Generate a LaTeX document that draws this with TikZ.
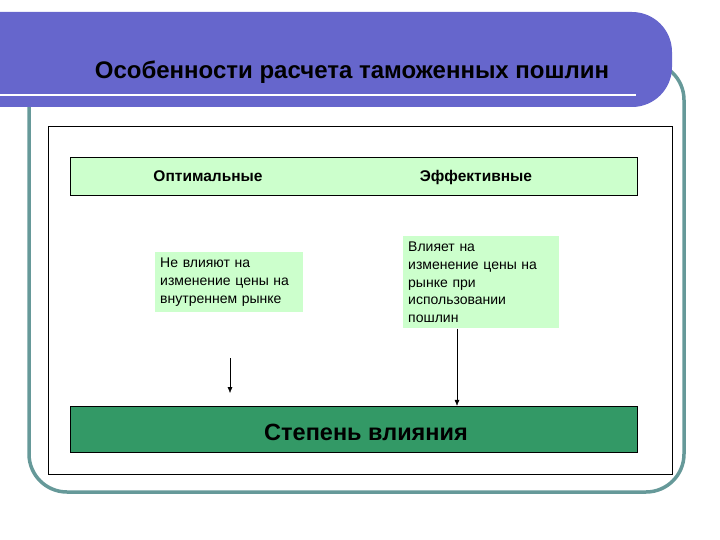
\documentclass[tikz,border=0pt]{standalone}
\usepackage{fontspec}
\setmainfont{Liberation Sans}
\usepackage{xcolor}
\usepackage{tikz}
\usetikzlibrary{arrows.meta, positioning, calc}

\definecolor{bandblue}{RGB}{102,102,204}
\definecolor{frameteal}{RGB}{102,153,153}
\definecolor{palegreen}{RGB}{204,255,204}
\definecolor{deepgreen}{RGB}{51,153,102}

\begin{document}
\begin{tikzpicture}[x=1pt, y=-1pt,
    kindbox/.style={draw=black, fill=palegreen, minimum width=567pt, minimum height=38pt, inner sep=0pt},
    kindlabel/.style={font=\fontsize{15.5}{18}\selectfont\bfseries, anchor=base},
    notebox/.style={fill=palegreen, font=\fontsize{14}{17.6}\selectfont, align=left, inner xsep=5pt, inner ysep=6pt, anchor=north west},
    arrowline/.style={-{Latex[length=6pt, width=5pt]}, thin}]
    \useasboundingbox (0,0) rectangle (720,540);

    % Outer slide frame
    \draw[frameteal, line width=3.5pt, rounded corners=38pt] (29,62) rectangle (684,492);

    % Title band
    \fill[bandblue, rounded corners=40pt] (-60,12) rectangle (672,107);
    \draw[white, line width=2.5pt] (0,95) -- (636,95);
    \node[font=\fontsize{24}{28}\selectfont\bfseries] (title) at (352,72) {Особенности расчета таможенных пошлин};

    % Content panel
    \draw[fill=white, thin] (48,126) rectangle (672,474);

    % Kinds of duties
    \node[kindbox] (kinds) at (353.5,176) {};
    \node[kindlabel] (optimal) at (208,181.5) {Оптимальные};
    \node[kindlabel] (effective) at (476,181.5) {Эффективные};

    % Notes on price influence
    \node[notebox, text width=138pt, minimum height=59pt] (optnote) at (155,252) {Не влияют на\\изменение цены на\\внутреннем рынке};
    \node[notebox, text width=146pt, minimum height=90pt] (effnote) at (403,236) {Влияет на\\изменение цены на\\рынке при\\использовании\\пошлин};

    % Degree of influence
    \node[draw=black, fill=deepgreen, minimum width=567pt, minimum height=46pt, inner sep=0pt] (degree) at (353.5,429) {};
    \node[font=\fontsize{23.5}{28}\selectfont\bfseries] (degreelabel) at (366,432) {Степень влияния};

    % Arrows
    \coordinate (lstart) at (230,358);
    \coordinate (lstop) at (230,393);
    \coordinate (rline) at (457,326);
    \draw[arrowline] (lstart) -- (lstop);
    \draw[arrowline] (effnote.south -| rline) -- (degree.north -| rline);
\end{tikzpicture}
\end{document}
